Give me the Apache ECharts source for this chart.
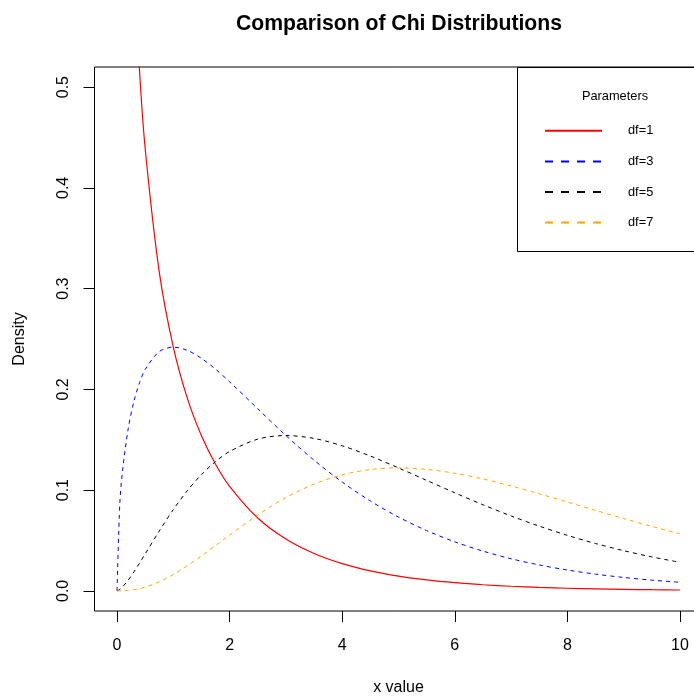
<!DOCTYPE html>
<html>
<head>
<meta charset="utf-8">
<script src="https://cdn.jsdelivr.net/npm/echarts@6/dist/echarts.min.js"></script>
<style>
html,body{margin:0;padding:0;background:#fff;}
#chart{width:694px;height:696px;}
</style>
</head>
<body>
<div id="chart"></div>
<script>
// x positions of the sampled curve points
const xValues = [0, 0.05, 0.1, 0.2, 0.3, 0.4, 0.5, 0.75, 1, 1.25, 1.5, 1.75, 2, 2.5, 3, 3.5, 4, 4.5, 5, 5.5, 6, 6.5, 7, 7.5, 8, 8.5, 9, 9.5, 10];
// density values
const df1Values = [null, 1.7401, 1.2000, 0.80718, 0.62691, 0.51644, 0.43939, 0.31661, 0.24197, 0.19100, 0.15387, 0.12571, 0.10378, 0.072288, 0.051393, 0.037055, 0.026996, 0.019822, 0.014645, 0.010875, 0.0081087, 0.0060674, 0.0045533, 0.0034259, 0.0025834, 0.0019518, 0.0014773, 0.0011198, 0.00085003];
const df3Values = [0, 0.087005, 0.12001, 0.16143, 0.18807, 0.20658, 0.21970, 0.23746, 0.24197, 0.23874, 0.23080, 0.22000, 0.20755, 0.18072, 0.15418, 0.12969, 0.10799, 0.089199, 0.073224, 0.059812, 0.048652, 0.039438, 0.031873, 0.025694, 0.020667, 0.016591, 0.013295, 0.010638, 0.0085002];
const df5Values = [0, 0.0014501, 0.0040003, 0.010762, 0.018807, 0.027544, 0.036617, 0.059365, 0.080657, 0.099475, 0.11540, 0.12833, 0.13837, 0.15060, 0.15418, 0.15131, 0.14399, 0.13380, 0.12204, 0.10966, 0.097304, 0.085449, 0.074370, 0.064235, 0.055112, 0.047008, 0.039885, 0.033687, 0.028334];
const df7Values = [0, 0.000014501, 0.000080006, 0.00043048, 0.0011284, 0.0022035, 0.0036617, 0.0089048, 0.016131, 0.024869, 0.034620, 0.044916, 0.055348, 0.075300, 0.092508, 0.10592, 0.11519, 0.12042, 0.12204, 0.12063, 0.11676, 0.11108, 0.10412, 0.096353, 0.088179, 0.079914, 0.071793, 0.064005, 0.056668];

const seriesNames = ['df=1', 'df=3', 'df=5', 'df=7'];
const xTicks = [0, 2, 4, 6, 8, 10];
const xTickLabels = ['0', '2', '4', '6', '8', '10'];
const yTicks = [0, 0.1, 0.2, 0.3, 0.4, 0.5];
const yTickLabels = ['0.0', '0.1', '0.2', '0.3', '0.4', '0.5'];

const FONT = '"Liberation Sans", Arial, Helvetica, sans-serif';
const colors = ['#ff0000', '#0000ff', '#000000', '#ffa500'];
const dashes = ['solid', [4, 4], [4, 4], [4, 4]];
const legendDashes = ['solid', [8, 8], [8, 8], [8, 8]];

function pairs(ys) {
  return xValues.map((x, i) => [x, ys[i]]);
}
const allValues = [df1Values, df3Values, df5Values, df7Values];

const chart = echarts.init(document.getElementById('chart'), null, {renderer: 'canvas'});
chart.setOption({
  backgroundColor: '#ffffff',
  animation: false,
  title: [
    {
      text: 'Comparison of Chi Distributions',
      left: 394, top: 9, textAlign: 'center',
      textStyle: {fontFamily: FONT, fontSize: 21.2, fontWeight: 'bold', color: '#000'}
    },
    {
      text: 'Parameters',
      left: 610, top: 85, textAlign: 'center', z: 8,
      textStyle: {fontFamily: FONT, fontSize: 12.8, fontWeight: 'normal', color: '#000'}
    }
  ],
  graphic: [{
    type: 'rect', z: 3,
    shape: {x: 517.5, y: 67.5, width: 200, height: 184},
    style: {fill: '#ffffff', stroke: '#000000', lineWidth: 1}
  }],
  legend: {
    orient: 'vertical',
    left: 544, top: 124.3, padding: 0,
    itemWidth: 57, itemHeight: 14, itemGap: 17.6,
    z: 8,
    itemStyle: {color: 'rgba(0,0,0,0)', borderWidth: 0, opacity: 0},
    textStyle: {fontFamily: FONT, fontSize: 12.8, color: '#000', padding: [0, 0, 0, 21]},
    data: seriesNames.map((n, i) => ({name: n, lineStyle: {width: 2, type: legendDashes[i]}}))
  },
  grid: {
    left: 94.5, top: 67, width: 608, height: 544,
    outerBoundsMode: 'none', containLabel: false,
    show: true, borderColor: '#000', borderWidth: 1, backgroundColor: 'transparent'
  },
  xAxis: {
    type: 'value', min: -0.4, max: 10.4,
    name: 'x value', nameLocation: 'middle', nameGap: 69,
    nameTextStyle: {fontFamily: FONT, fontSize: 16, color: '#000'},
    axisLine: {show: false, onZero: false},
    splitLine: {show: false},
    axisTick: {show: true, length: 11, customValues: xTicks, lineStyle: {color: '#000', width: 1}},
    axisLabel: {
      customValues: xTicks, margin: 27,
      fontFamily: FONT, fontSize: 16, color: '#000',
      formatter: v => xTickLabels[xTicks.indexOf(v)]
    }
  },
  yAxis: {
    type: 'value', min: -0.02, max: 0.52,
    name: 'Density', nameLocation: 'middle', nameGap: 67, nameRotate: 90,
    nameTextStyle: {fontFamily: FONT, fontSize: 16, color: '#000'},
    axisLine: {show: false, onZero: false},
    splitLine: {show: false},
    axisTick: {show: true, length: 11, customValues: yTicks, lineStyle: {color: '#000', width: 1}},
    axisLabel: {
      customValues: yTicks, margin: 23, rotate: 90,
      fontFamily: FONT, fontSize: 16, color: '#000',
      formatter: v => yTickLabels[yTicks.findIndex(t => Math.abs(t - v) < 1e-9)]
    }
  },
  series: seriesNames.map((n, i) => ({
    name: n, type: 'line', data: pairs(allValues[i]),
    showSymbol: false, symbol: 'none', smooth: 0.3, clip: true,
    connectNulls: false,
    lineStyle: {color: colors[i], width: i === 0 ? 1.2 : 1, type: dashes[i]},
    itemStyle: {color: colors[i]},
    z: 2
  }))
});
</script>
</body>
</html>
